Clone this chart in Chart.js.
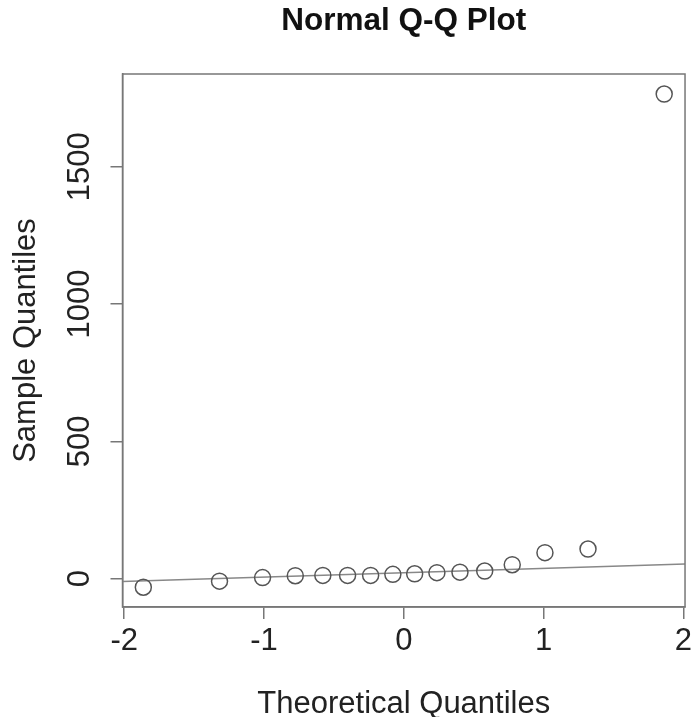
<!DOCTYPE html>
<html>
<head>
<meta charset="utf-8">
<title>Normal Q-Q Plot</title>
<script src="https://cdn.jsdelivr.net/npm/chart.js@4"></script>
<style>
  body { margin: 0; background: #fff; }
  canvas { display: block; }
</style>
</head>
<body>
<canvas id="qqChart" width="696" height="717"></canvas>
<script>
// theoretical normal quantiles for 16 points, and the sorted sample values
var theoQuantiles = [-1.863, -1.318, -1.010, -0.776, -0.579, -0.402, -0.237, -0.078,
                     0.078, 0.237, 0.402, 0.579, 0.776, 1.010, 1.318, 1.863];
var sampleQuantiles = [-31, -9, 4, 11, 12, 12, 12, 16, 18, 22, 24, 28, 51, 95, 108, 1765];

// reference line (qqline) end points
var lineX = [-2.012, 2.012];
var lineY = [-10.5, 53.5];

var xTicks = [-2, -1, 0, 1, 2];
var yTicks = [0, 500, 1000, 1500];
var xRange = [-2.012, 2.012];
var yRange = [-103, 1838];

var axisGray = '#777';
var fontFamily = '"Liberation Sans", Arial, Helvetica, sans-serif';

// R style box around the plot region
var boxPlugin = {
  id: 'plotBox',
  afterDraw: function(chart) {
    var a = chart.chartArea;
    var ctx = chart.ctx;
    ctx.save();
    ctx.strokeStyle = axisGray;
    ctx.lineWidth = 1.5;
    ctx.strokeRect(a.left, a.top, a.right - a.left, a.bottom - a.top);
    ctx.restore();
  }
};

var ctx = document.getElementById('qqChart').getContext('2d');
var qqChart = new Chart(ctx, {
  type: 'scatter',
  data: {
    datasets: [{
      label: 'sample',
      data: theoQuantiles.map(function(q, i) { return { x: q, y: sampleQuantiles[i] }; }),
      pointStyle: 'circle',
      pointRadius: 8,
      pointBorderWidth: 1.5,
      borderColor: '#555',
      backgroundColor: 'rgba(0,0,0,0)',
      showLine: false
    }, {
      label: 'qqline',
      type: 'line',
      data: lineX.map(function(x, i) { return { x: x, y: lineY[i] }; }),
      borderColor: '#888',
      borderWidth: 1.5,
      pointRadius: 0,
      fill: false
    }]
  },
  options: {
    responsive: false,
    animation: false,
    devicePixelRatio: 1,
    layout: {
      padding: { left: 0, right: 8, top: 0, bottom: 0 }
    },
    plugins: {
      legend: { display: false },
      tooltip: { enabled: false },
      title: {
        display: true,
        text: 'Normal Q-Q Plot',
        fullSize: false,
        color: '#111',
        font: { family: fontFamily, size: 31.5, weight: 'bold' },
        padding: { top: 2, bottom: 34.2 }
      }
    },
    scales: {
      x: {
        type: 'linear',
        min: xRange[0],
        max: xRange[1],
        afterBuildTicks: function(scale) {
          scale.ticks = xTicks.map(function(v) { return { value: v }; });
        },
        afterFit: function(scale) {
          scale.height = 110;
        },
        ticks: {
          color: '#222',
          padding: 4,
          maxRotation: 0,
          font: { family: fontFamily, size: 31 },
          callback: function(v) { return String(v); }
        },
        grid: {
          drawOnChartArea: false,
          drawTicks: true,
          tickLength: 12,
          color: axisGray,
          lineWidth: 1.5
        },
        border: { display: true, color: axisGray, width: 1.5 },
        title: {
          display: true,
          text: 'Theoretical Quantiles',
          color: '#222',
          font: { family: fontFamily, size: 31 },
          padding: { top: 0, bottom: -6 }
        }
      },
      y: {
        type: 'linear',
        min: yRange[0],
        max: yRange[1],
        afterBuildTicks: function(scale) {
          scale.ticks = yTicks.map(function(v) { return { value: v }; });
        },
        afterFit: function(scale) {
          scale.width = 122.5;
        },
        ticks: {
          color: '#222',
          padding: -4,
          minRotation: 90,
          maxRotation: 90,
          crossAlign: 'center',
          font: { family: fontFamily, size: 31 },
          callback: function(v) { return String(v); }
        },
        grid: {
          drawOnChartArea: false,
          drawTicks: true,
          tickLength: 12,
          color: axisGray,
          lineWidth: 1.5
        },
        border: { display: true, color: axisGray, width: 1.5 },
        title: {
          display: true,
          text: 'Sample Quantiles',
          color: '#222',
          font: { family: fontFamily, size: 31 },
          padding: { top: 8, bottom: 0 }
        }
      }
    }
  },
  plugins: [boxPlugin]
});
</script>
</body>
</html>
